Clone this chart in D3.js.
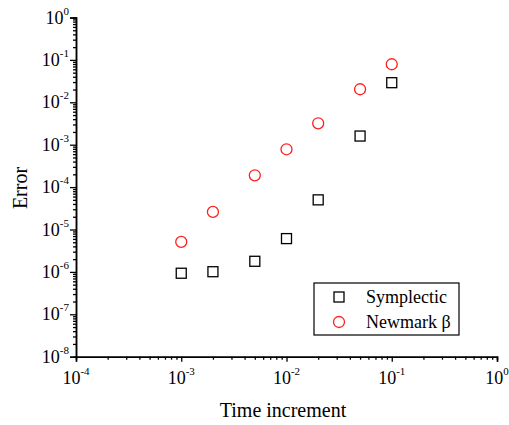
<!DOCTYPE html>
<html>
<head>
<meta charset="utf-8">
<script src="https://cdn.jsdelivr.net/npm/d3@7"></script>
<style>
  body { margin: 0; background: #fff; }
  text { font-family: "Liberation Serif", "Times New Roman", serif; fill: #000; }
</style>
</head>
<body>
<svg id="chart" width="509" height="425"></svg>
<script>
// time increments (shared by both series)
var steps = [1e-3, 2e-3, 5e-3, 1e-2, 2e-2, 5e-2, 1e-1];
var symplectic = [9.3e-7, 1.01e-6, 1.78e-6, 6.1e-6, 5.0e-5, 1.6e-3, 2.9e-2];
var newmark = [5.1e-6, 2.6e-5, 1.9e-4, 7.8e-4, 3.2e-3, 2.03e-2, 7.9e-2];
var xExps = [-4, -3, -2, -1, 0];
var yExps = [-8, -7, -6, -5, -4, -3, -2, -1, 0];
var legendNames = ["Symplectic", "Newmark \u03b2"];

var svg = d3.select("#chart");
var plotLeft = 76, plotRight = 497, plotTop = 17.5, plotBottom = 356.7;

var x = d3.scaleLog().domain([1e-4, 1]).range([plotLeft, plotRight]);
var y = d3.scaleLog().domain([1e-8, 1]).range([plotBottom, plotTop]);

function minors(exps) {
    var out = [];
    for (var i = 0; i < exps.length - 1; i++) {
        for (var k = 2; k <= 9; k++) out.push(k * Math.pow(10, exps[i]));
    }
    return out;
}

function powLabel(sel, e) {
    sel.append("tspan").text("10");
    sel.append("tspan").attr("dy", -9).style("font-size", "11px").text(e);
}

// x axis
var gx = svg.append("g").attr("transform", "translate(0," + plotBottom + ")");
gx.call(d3.axisBottom(x).tickValues(xExps.map(function(e) { return Math.pow(10, e); }))
    .tickSize(5).tickFormat(""));
gx.append("g").call(d3.axisBottom(x).tickValues(minors(xExps)).tickSize(3).tickFormat(""));
gx.selectAll("path.domain").attr("stroke", "#000").attr("stroke-width", 1.5);
gx.selectAll(".tick line").attr("stroke", "#000").attr("stroke-width", 1.3);

xExps.forEach(function(e) {
    var t = gx.append("text")
        .attr("x", x(Math.pow(10, e)))
        .attr("y", 27.5)
        .attr("text-anchor", "middle")
        .style("font-size", "18px");
    powLabel(t, e);
});

// y axis
var gy = svg.append("g").attr("transform", "translate(" + plotLeft + ",0)");
gy.call(d3.axisLeft(y).tickValues(yExps.map(function(e) { return Math.pow(10, e); }))
    .tickSize(6).tickFormat(""));
gy.append("g").call(d3.axisLeft(y).tickValues(minors(yExps)).tickSize(3).tickFormat(""));
gy.selectAll("path.domain").attr("stroke", "#000").attr("stroke-width", 1.5);
gy.selectAll(".tick line").attr("stroke", "#000").attr("stroke-width", 1.3);

yExps.forEach(function(e) {
    var t = gy.append("text")
        .attr("x", -7)
        .attr("y", y(Math.pow(10, e)) + 6)
        .attr("text-anchor", "end")
        .style("font-size", "18px");
    powLabel(t, e);
});

// axis titles
svg.append("text")
    .attr("x", 283).attr("y", 417)
    .attr("text-anchor", "middle")
    .style("font-size", "20px")
    .text("Time increment");

svg.append("text")
    .attr("transform", "translate(27,188) rotate(-90)")
    .attr("text-anchor", "middle")
    .style("font-size", "20px")
    .text("Error");

// markers
var sq = 10;
svg.append("g").selectAll("rect")
    .data(steps)
  .enter().append("rect")
    .attr("x", function(d) { return x(d) - sq / 2; })
    .attr("y", function(d, i) { return y(symplectic[i]) - sq / 2; })
    .attr("width", sq).attr("height", sq)
    .attr("fill", "none").attr("stroke", "#000").attr("stroke-width", 1.3);

svg.append("g").selectAll("circle")
    .data(steps)
  .enter().append("circle")
    .attr("cx", function(d) { return x(d); })
    .attr("cy", function(d, i) { return y(newmark[i]); })
    .attr("r", 5.5)
    .attr("fill", "none").attr("stroke", "#ff2020").attr("stroke-width", 1.3);

// legend
var lg = svg.append("g");
lg.append("rect")
    .attr("x", 314).attr("y", 283).attr("width", 145).attr("height", 52)
    .attr("fill", "#fff").attr("stroke", "#000").attr("stroke-width", 1.2);
lg.append("rect")
    .attr("x", 339 - sq / 2).attr("y", 297 - sq / 2).attr("width", sq).attr("height", sq)
    .attr("fill", "none").attr("stroke", "#000").attr("stroke-width", 1.3);
lg.append("circle")
    .attr("cx", 339).attr("cy", 322).attr("r", 5.5)
    .attr("fill", "none").attr("stroke", "#ff2020").attr("stroke-width", 1.3);
lg.selectAll("text.lbl")
    .data(legendNames)
  .enter().append("text")
    .attr("class", "lbl")
    .attr("x", 366)
    .attr("y", function(d, i) { return 303 + i * 25; })
    .style("font-size", "18px")
    .text(function(d) { return d; });
</script>
</body>
</html>
